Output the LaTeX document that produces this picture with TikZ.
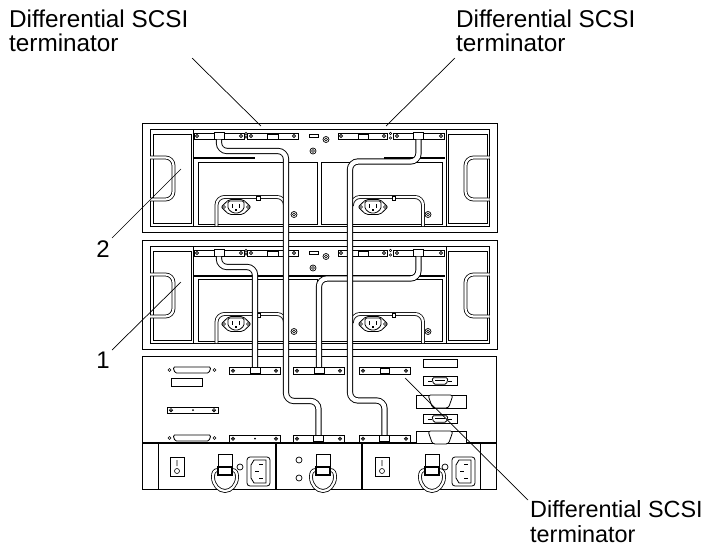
\documentclass[tikz,border=0pt]{standalone}
\usepackage{fontspec}
\setmainfont{Liberation Sans}
\tikzset{
    part/.style={draw, line width=0.8pt, fill=white},
    heavy/.style={draw, line width=1.6pt},
    cable/.style={draw, line width=0.9pt, double=white, double distance=4.4pt, rounded corners=8pt},
    cord/.style={draw, line width=0.8pt, double=white, double distance=2.2pt, rounded corners=8pt},
    plug/.style={part, inner sep=0pt, minimum width=10pt, minimum height=6.5pt},
    leader/.style={draw, line width=0.7pt},
    callout/.style={align=left, anchor=base west, inner sep=0pt, font=\fontsize{24.3}{24.6}\selectfont},
    number/.style={anchor=base, inner sep=0pt, font=\fontsize{24}{24}\selectfont},
    screw/.pic={\draw[line width=0.6pt, fill=white] (0,0) circle (1.7pt); \fill (0,0) circle (0.8pt);},
    boss/.pic={\draw[line width=0.7pt] (0,0) circle (3pt); \draw[line width=0.7pt] (0,0) circle (1.5pt);},
    plate/.pic={
        \path[part] (0,0) rectangle (51,6.5);
        \pic at (4,3.2) {screw};
        \pic at (47,3.2) {screw};
    },
    plate dot/.pic={
        \pic {plate};
        \fill (26,3.2) circle (1pt);
    },
    socket/.pic={
        \path[part, rounded corners=2pt] (-15,0) -- (-7,-7.5) -- (7,-7.5) -- (15,0) -- (7,7.5) -- (-7,7.5) -- cycle;
        \path[part, rounded corners=1.5pt] (-8,-6) -- (8,-6) -- (8,2) -- (3,6) -- (-3,6) -- (-8,2) -- cycle;
        \draw[line width=1.2pt] (-3.5,-3) -- (-3.5,0.5) (3.5,-3) -- (3.5,0.5) (0,2) -- (0,3.5);
        \draw[line width=0.6pt] (-12,0) circle (1.5pt) (12,0) circle (1.5pt);
    },
    unit/.pic={
        \path[part] (142.5,123) rectangle (497,232);
        \path[part] (150,129) rectangle (489,226);
        \path[part] (153,134) rectangle (191,223);
        \path[part] (448,134) rectangle (487,223);
        \draw[line width=0.8pt] (193,129) -- (193,226) (446,129) -- (446,226);
        \path[part] (198,162) rectangle (317,224);
        \path[part] (321,162) rectangle (442,224);
        \draw[cord] (150,157.5) -- (173.5,157.5) -- (173.5,199.5) -- (150,199.5);
        \draw[cord] (489.5,157.5) -- (465.5,157.5) -- (465.5,199.5) -- (489.5,199.5);
        \path[part] (194,133) rectangle (244,139.5);
        \path[part] (247,133) rectangle (298,139.5);
        \path[part] (338,133) rectangle (387,139.5);
        \path[part] (393,133) rectangle (444,139.5);
        \pic at (197,136) {screw};
        \pic at (241,136) {screw};
        \pic at (251,136) {screw};
        \pic at (294,136) {screw};
        \pic at (341,136) {screw};
        \pic at (384,136) {screw};
        \pic at (397,136) {screw};
        \pic at (441,136) {screw};
        \draw[line width=0.6pt] (246,133.5) circle (1.2pt) (246,137) circle (1.2pt) (390.5,133.5) circle (1.2pt) (390.5,138) circle (1.2pt);
        \path[part, line width=1pt] (267,134) rectangle (278,139.5);
        \path[part, line width=1pt] (358,134) rectangle (368,139.5);
        \path[part] (309,134) rectangle (318,137.5);
        \pic at (326,139.5) {boss};
        \pic at (313,151) {boss};
        \pic at (294,214.5) {boss};
        \pic at (428,214.5) {boss};
        \draw[cord] (216.5,226) |- (285,197) -- (285,206);
        \draw[cord] (423,226) |- (352,197) -- (352,206);
        \path[part] (256.5,196) rectangle (260,200.5);
        \path[part] (392,196) rectangle (395.5,200.5);
        \pic at (236,207) {socket};
        \pic at (373,207) {socket};
    },
    dsub/.pic={
        \path[part] (-17,-4.5) rectangle (17,4.5);
        \path[part, rounded corners=1.5pt] (-8,-3.2) -- (8,-3.2) -- (6.5,3.2) -- (-6.5,3.2) -- cycle;
        \draw[line width=1.2pt] (-5,-0.5) -- (5,-0.5);
        \draw[line width=0.6pt] (-8,0) -- (-12,0) (8,0) -- (12,0);
    },
    hood/.pic={
        \path[part, rounded corners=2.5pt] (-12.5,0) -- (12.5,0) -- (8,13) -- (-8,13) -- cycle;
    },
    handle/.pic={
        \draw[cord, rounded corners=0pt] (-7,16) .. controls (-11,16) and (-12,19) .. (-12,23) .. controls (-12,31) and (-6,37) .. (0,37) .. controls (6,37) and (12,31) .. (12,23) .. controls (12,19) and (11,16) .. (7,16);
        \path[part] (-7,0) rectangle (7,13);
        \path[part, line width=1.1pt] (-7,13) rectangle (7,21);
    },
    toggle/.pic={
        \path[part, line width=1pt] (0,0) rectangle (14,19);
        \draw[line width=0.6pt] (7,3) -- (7,9) (7,14) circle (2.5pt);
    },
    inlet/.pic={
        \path[part, rounded corners=3pt] (0,0) rectangle (23,29);
        \path[part] (7,3) -- (19,3) -- (19,26) -- (7,26) -- (4,21) -- (4,8) -- cycle;
        \draw[line width=1.2pt] (12,7.5) -- (16,7.5) (12,21.5) -- (16,21.5) (8,14.5) -- (11.5,14.5);
    }
}
\begin{document}
\begin{tikzpicture}[x=1pt, y=-1pt]
\useasboundingbox (0,0) rectangle (713,546);

\node[callout] (labelLeft) at (9,51.7) {Differential SCSI\\terminator};
\node[callout] (labelRight) at (456,51.7) {Differential SCSI\\terminator};
\node[callout, font=\fontsize{23.4}{25}\selectfont] (labelBottom) at (530,542.5) {Differential SCSI\\terminator};
\node[number] (labelTwo) at (103,257) {2};
\node[number] (labelOne) at (103,368) {1};

\pic at (0,0) {unit};
\pic at (0,117) {unit};
\draw[heavy] (193,158) -- (255,158) (384,158) -- (445,158);
\draw[heavy] (193,276) -- (445,276);

% rear chassis
\path[part] (142.5,356) rectangle (496.5,489);
\draw[heavy] (142.5,443) -- (496.5,443);
\draw[line width=0.9pt] (158,443) -- (158,489) (480,443) -- (480,489);
\draw[heavy] (276,443) -- (276,489) (362,443) -- (362,489);
\pic at (229,367.5) {plate};
\pic at (293,367.5) {plate};
\pic at (359,367.5) {plate};
\pic at (167,407) {plate dot};
\pic at (229,435.5) {plate dot};
\pic at (293,435.5) {plate};
\pic at (359,435.5) {plate};
\path[part, line width=1pt] (380,368) rectangle (389,373.5);
\foreach \y in {370,438} {
    \path[part, rounded corners=1.5pt] (173,\y-3) -- (211,\y-3) -- (209,\y+3) -- (175,\y+3) -- cycle;
    \draw[line width=0.6pt] (169.5,\y) circle (1.5pt) (214.5,\y) circle (1.5pt);
}
\path[part] (171,378) rectangle (202,386);
\path[part] (423,359) rectangle (457,367);
\pic at (440,381) {dsub};
\pic at (440,419) {dsub};
\path[part] (416,395) rectangle (466,408);
\pic at (440.5,395) {hood};
\path[part] (416,431) rectangle (466,443);
\pic at (440.5,431) {hood};
\pic at (170,457) {toggle};
\pic at (375,457) {toggle};
\pic at (225,454) {handle};
\pic at (323,454) {handle};
\pic at (432,454) {handle};
\pic at (247,457) {inlet};
\pic at (452,457) {inlet};
\draw[line width=0.7pt] (240,467) circle (3pt) (445,467) circle (3pt) (299,460) circle (3pt) (299,478) circle (3pt);

% cables between the units
\node[plug] (plugTopLeft) at (219,136) {};
\node[plug] (plugTopRight) at (418.5,136) {};
\node[plug] (plugMidLeft) at (219,253) {};
\node[plug] (plugMidRight) at (418.5,253) {};
\node[plug] (plugHostLeft) at (255,370.5) {};
\node[plug] (plugHostMid) at (319,370.5) {};
\node[plug] (plugLowMid) at (318.5,438.5) {};
\node[plug] (plugLowRight) at (384.5,438.5) {};

\draw[cable] (plugMidLeft.south) |- (255,267) -- (plugHostLeft.north);
\draw[cable] (plugMidRight.south) |- (319,278.5) -- (plugHostMid.north);
\draw[cable] (plugTopLeft.south) |- (286,151) |- (318.5,401) -- (plugLowMid.north);
\draw[cable] (plugTopRight.south) |- (350,161.5) |- (384.5,400.5) -- (plugLowRight.north);

% leaders
\coordinate (startLeft) at (192,58);
\coordinate (tipLeft) at (261,126);
\coordinate (startRight) at (455,58);
\coordinate (tipRight) at (386,126);
\coordinate (startBottom) at (528,500);
\coordinate (tipBottom) at (405,378);
\coordinate (startTwo) at (112,238);
\coordinate (tipTwo) at (181,169);
\coordinate (startOne) at (112,350);
\coordinate (tipOne) at (181,282);
\draw[leader] (startLeft) -- (tipLeft);
\draw[leader] (startRight) -- (tipRight);
\draw[leader] (startBottom) -- (tipBottom);
\draw[leader] (startTwo) -- (tipTwo);
\draw[leader] (startOne) -- (tipOne);

\end{tikzpicture}
\end{document}
